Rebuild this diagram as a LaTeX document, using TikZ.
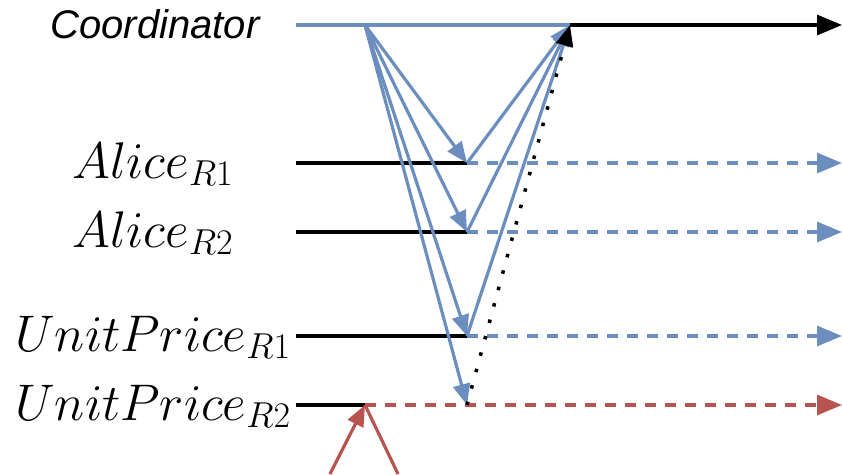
\RequirePackage{fix-cm}
\documentclass[tikz,border=0pt]{standalone}
\usepackage{fontspec}
\setsansfont{Liberation Sans}
\usetikzlibrary{arrows.meta,positioning}
\definecolor{msgblue}{HTML}{6C8EBF}
\definecolor{msgred}{HTML}{B85450}

\begin{document}
\begin{tikzpicture}[x=1pt, y=-1pt,
    lbl/.style={anchor=base, yshift=-15pt, font=\fontsize{51.5}{60}\selectfont},
    tline/.style={line width=3.2pt},
    bigtip/.style={-{Triangle[length=25pt, width=20pt]}},
    future/.style={line width=3.2pt, dash pattern=on 11pt off 9pt, bigtip},
    msg/.style={line width=3.2pt, -{Triangle[length=21pt, width=17pt]}},
    chain/.style={line width=3.5pt, dash pattern=on 3.5pt off 13.5pt, -{Triangle[length=21pt, width=17pt]}}
]
\useasboundingbox (0,0) rectangle (842,474);

% Participants
\node[anchor=base, yshift=-13pt, font=\sffamily\itshape\fontsize{40}{48}\selectfont] (coord) at (155,25) {Coordinator};
\node[lbl] (alice1) at (153,163) {$Alice_{R1}$};
\node[lbl] (alice2) at (153,232) {$Alice_{R2}$};
\node[lbl] (price1) at (153,336) {$UnitPrice_{R1}$};
\node[lbl] (price2) at (153,405) {$UnitPrice_{R2}$};

% Timeline points
\coordinate (c0) at (296,25);
\coordinate (c1) at (365,25);
\coordinate (c2) at (570,25);
\coordinate (c3) at (842,25);
\foreach \n/\y in {a1/163, a2/232, p1/336, p2/405}{
    \coordinate (\n0) at (296,\y);
    \coordinate (\n1) at (467,\y);
    \coordinate (\n2) at (842,\y);
}
\coordinate (p2m) at (365,405);
\coordinate (rin) at (330,474);
\coordinate (rout) at (398,474);

% Coordinator
\draw[tline, msgblue] (c0) -- (c2);
\draw[tline, bigtip] (c2) -- (c3);

% Replicas that answered
\foreach \n in {a1,a2,p1}{
    \draw[tline] (\n0) -- (\n1);
    \draw[future, msgblue] (\n1) -- (\n2);
    \draw[msg, msgblue] (c1) -- (\n1);
    \draw[msg, msgblue] (\n1) -- (c2);
}

% Late replica
\draw[tline] (p20) -- (p2m);
\draw[future, msgred] (p2m) -- (p22);
\draw[msg, msgblue] (c1) -- (p21);
\draw[chain] (p21) -- (c2);
\draw[msg, msgred] (rin) -- (p2m);
\draw[tline, msgred] (p2m) -- (rout);

\end{tikzpicture}
\end{document}
